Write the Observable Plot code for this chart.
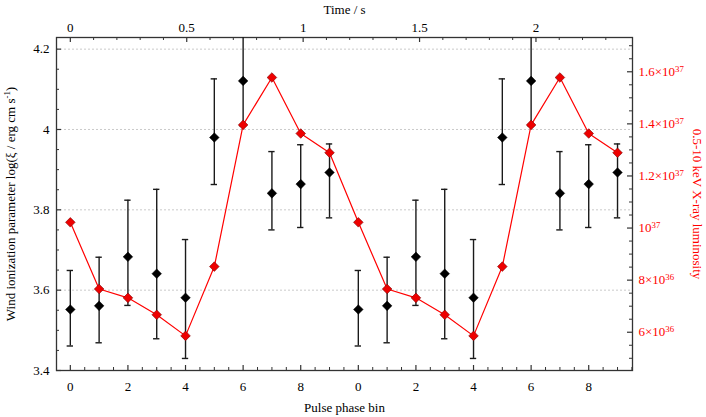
<!DOCTYPE html>
<html>
<head>
<meta charset="utf-8">
<script src="https://cdn.jsdelivr.net/npm/d3@7"></script>
<script src="https://cdn.jsdelivr.net/npm/@observablehq/plot@0.6"></script>
<style>
  html, body { margin: 0; padding: 0; background: #fff; }
  svg { font-family: "Liberation Serif", "DejaVu Serif", serif; }
</style>
</head>
<body>
<div id="chart"></div>
<script>
// ---- data ----
const bins = [0, 1, 2, 3, 4, 5, 6, 7, 8, 9];
const cycles = [0, 1];
const logXi   = [3.552, 3.561, 3.683, 3.641, 3.581, 3.980, 4.121, 3.841, 3.864, 3.893];
const logXiLo = [3.461, 3.469, 3.562, 3.479, 3.430, 3.863, 4.009, 3.750, 3.756, 3.780];
const logXiHi = [3.649, 3.682, 3.824, 3.851, 3.726, 4.126, 4.350, 3.945, 3.962, 3.964];
const lum36   = [10.22, 7.66, 7.32, 6.67, 5.86, 8.52, 13.96, 15.78, 13.63, 12.89]; // ×10^36 erg/s
const binTickLabels = [0, 2, 4, 6, 8];
const timeTicks = [0, 0.5, 1, 1.5, 2];
const xiTicks = [3.4, 3.6, 3.8, 4.0, 4.2];
const gridTicks = [3.6, 3.8, 4.0, 4.2];
const lumTicks36 = [6, 8, 10, 12, 14, 16];
const lumTickLabels = ["6×10^{36}", "8×10^{36}", "10^{37}", "1.2×10^{37}", "1.4×10^{37}", "1.6×10^{37}"];
const pulsePeriod = 1.237; // s, duration of 10 phase bins

// ---- layout ----
const W = 706, H = 417;
const mL = 56, mR = 74, mT = 37, mB = 47;
const pw = W - mL - mR, ph = H - mT - mB;
const xDomain = [-0.48, 19.52];
const yDomain = [3.4, 4.229];
const lumDomain = [4.531, 17.316];
const lumToY = (L) => yDomain[0] + (L - lumDomain[0]) / (lumDomain[1] - lumDomain[0]) * (yDomain[1] - yDomain[0]);
const binsPerSec = 10 / pulsePeriod;

const rows = [];
for (const c of cycles) for (const b of bins) {
  rows.push({x: c * 10 + b, xi: logXi[b], lo: logXiLo[b], hi: logXiHi[b], lum: lum36[b]});
}
const binMajor = cycles.flatMap(c => binTickLabels.map(b => c * 10 + b));
const binMinor = d3.range(0, 19.51, 0.5).filter(v => !binMajor.includes(v));
const timeMinor = d3.range(0, 2.35, 0.1).map(t => +t.toFixed(2)).filter(t => !timeTicks.includes(t));
const xiMinor = d3.range(3.45, 4.23, 0.05).map(v => +v.toFixed(2)).filter(v => !xiTicks.some(t => Math.abs(t - v) < 1e-6));
const lumMinor = d3.range(5, 17.01, 0.5).filter(v => !lumTicks36.includes(v));

const diamond = {
  draw(ctx, size) {
    const r = Math.sqrt(size / Math.PI);
    ctx.moveTo(0, -r); ctx.lineTo(r, 0); ctx.lineTo(0, r); ctx.lineTo(-r, 0); ctx.closePath();
  }
};
const axisColor = "#333";
const red = "#ff0000";
const yTop = yDomain[1];

const chart = Plot.plot({
  width: W, height: H,
  marginLeft: mL, marginRight: mR, marginTop: mT, marginBottom: mB,
  style: {fontFamily: "'Liberation Serif', serif", fontSize: "13px", background: "#fff"},
  x: {domain: xDomain, axis: null},
  y: {domain: yDomain, axis: null},
  marks: [
    Plot.ruleY(gridTicks, {y: d => d, stroke: "#bdbdbd", strokeDasharray: "2,2", strokeWidth: 0.8}),
    // inward ticks
    Plot.tickX(binMajor, {x: d => d, insetTop: ph - 5, stroke: axisColor, strokeWidth: 1.2}),
    Plot.tickX(binMinor, {x: d => d, insetTop: ph - 3, stroke: axisColor, strokeWidth: 1}),
    Plot.tickX(timeTicks, {x: t => t * binsPerSec, insetBottom: ph - 5, stroke: axisColor, strokeWidth: 1.2}),
    Plot.tickX(timeMinor, {x: t => t * binsPerSec, insetBottom: ph - 3, stroke: axisColor, strokeWidth: 1}),
    Plot.tickY(xiTicks, {y: d => d, insetRight: pw - 5, stroke: axisColor, strokeWidth: 1.2}),
    Plot.tickY(xiMinor, {y: d => d, insetRight: pw - 3, stroke: axisColor, strokeWidth: 1}),
    Plot.tickY(lumTicks36, {y: d => lumToY(d), insetLeft: pw - 5, stroke: axisColor, strokeWidth: 1.2}),
    Plot.tickY(lumMinor, {y: d => lumToY(d), insetLeft: pw - 3, stroke: axisColor, strokeWidth: 1}),
    Plot.frame({stroke: axisColor, strokeWidth: 1.3}),
    // tick labels
    Plot.text(binMajor, {x: d => d, text: d => String(d % 10), frameAnchor: "bottom", dy: 11, lineAnchor: "top", fill: "#000"}),
    Plot.text(timeTicks, {x: t => t * binsPerSec, text: t => String(t), frameAnchor: "top", dy: -6, lineAnchor: "bottom", fill: "#000"}),
    Plot.text(xiTicks, {y: d => d, text: d => String(d), frameAnchor: "left", dx: -7, textAnchor: "end", fill: "#000"}),
    Plot.text(lumTicks36, {y: d => lumToY(d), text: (d, i) => lumTickLabels[i], frameAnchor: "right", dx: 6, textAnchor: "start", fill: red}),
    // titles
    Plot.text(["Time / s"], {frameAnchor: "top", dy: -28, lineAnchor: "middle", textAnchor: "middle", text: d => d, fill: "#000"}),
    Plot.text(["Pulse phase bin"], {frameAnchor: "bottom", dy: 37, lineAnchor: "middle", textAnchor: "middle", text: d => d, fill: "#000"}),
    Plot.text(["Wind ionization parameter log(ξ / erg cm s^{-1})"], {frameAnchor: "left", dx: -46, rotate: -90, textAnchor: "middle", lineAnchor: "middle", text: d => d, fill: "#000"}),
    Plot.text(["0.5-10 keV X-ray luminosity"], {frameAnchor: "right", dx: 65, rotate: 90, textAnchor: "middle", lineAnchor: "middle", text: d => d, fill: red}),
    // black series with error bars
    Plot.ruleX(rows, {x: "x", y1: "lo", y2: d => Math.min(d.hi, yTop), stroke: "#1a1a1a", strokeWidth: 1.4}),
    Plot.ruleY(rows, {y: "lo", x1: d => d.x - 0.11, x2: d => d.x + 0.11, stroke: "#1a1a1a", strokeWidth: 1.4}),
    Plot.ruleY(rows.filter(d => d.hi < yTop), {y: "hi", x1: d => d.x - 0.11, x2: d => d.x + 0.11, stroke: "#1a1a1a", strokeWidth: 1.4}),
    Plot.dot(rows, {x: "x", y: "xi", symbol: diamond, r: 4.8, fill: "#000", stroke: "#000", strokeWidth: 0.5}),
    // red luminosity series
    Plot.line(rows, {x: "x", y: d => lumToY(d.lum), stroke: red, strokeWidth: 1.2}),
    Plot.dot(rows, {x: "x", y: d => lumToY(d.lum), symbol: diamond, r: 4.8, fill: "#ee0000", stroke: "#7a0000", strokeWidth: 0.6})
  ]
});

// superscripts
chart.querySelectorAll("text").forEach(t => {
  const s = t.textContent;
  if (!s.includes("^{")) return;
  const parts = s.split(/\^\{([^}]*)\}/);
  t.textContent = "";
  const ns = "http://www.w3.org/2000/svg";
  let raised = false;
  parts.forEach((p, i) => {
    if (p === "") return;
    const sp = document.createElementNS(ns, "tspan");
    sp.textContent = p;
    if (i % 2 === 1) {
      sp.setAttribute("dy", "-0.5em");
      sp.setAttribute("font-size", "0.68em");
      raised = true;
    } else if (raised) {
      sp.setAttribute("dy", "0.34em");
      raised = false;
    }
    t.appendChild(sp);
  });
});

document.getElementById("chart").appendChild(chart);
</script>
</body>
</html>
